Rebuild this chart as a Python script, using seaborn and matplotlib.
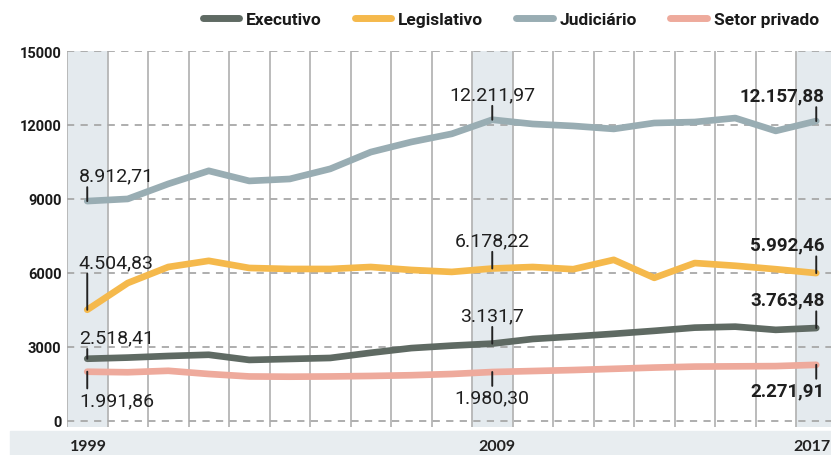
import matplotlib
matplotlib.use("Agg")
import matplotlib.pyplot as plt
import seaborn as sns
import pandas as pd

years = list(range(1999, 2018))

executivo = [2518.41, 2565, 2630, 2680, 2470, 2510, 2550, 2760, 2950, 3050,
             3131.7, 3320, 3420, 3530, 3650, 3780, 3820, 3690, 3763.48]
legislativo = [4504.83, 5590, 6240, 6490, 6200, 6160, 6160, 6240, 6120, 6040,
               6178.22, 6240, 6150, 6530, 5800, 6400, 6290, 6150, 5992.46]
judiciario = [8912.71, 9000, 9610, 10140, 9730, 9810, 10220, 10900, 11310, 11640,
              12211.97, 12040, 11960, 11840, 12080, 12120, 12280, 11760, 12157.88]
setor_privado = [1991.86, 1970, 2030, 1900, 1800, 1790, 1800, 1820, 1850, 1900,
                 1980.30, 2020, 2060, 2110, 2160, 2200, 2210, 2220, 2271.91]

series_names = ["Executivo", "Legislativo", "Judiciário", "Setor privado"]
series_values = [executivo, legislativo, judiciario, setor_privado]
colors = {"Executivo": "#5f6a63", "Legislativo": "#f5b94c",
          "Judiciário": "#99adb3", "Setor privado": "#eeaa9c"}

highlight_years = [1999, 2009, 2017]
y_ticks = [0, 3000, 6000, 9000, 12000, 15000]
x_labels = ["1999", "2009", "2017"]


def fmt_br(v, decimals=2):
    s = f"{v:,.{decimals}f}"
    return s.replace(",", "X").replace(".", ",").replace("X", ".")


rows = []
for name, vals in zip(series_names, series_values):
    for y, v in zip(years, vals):
        rows.append({"Ano": y, "Valor": v, "Série": name})
df = pd.DataFrame(rows)

sns.set_theme(style="white")
plt.rcParams["font.family"] = ["Roboto", "DejaVu Sans"]

W, H = 831, 456
COL = 40.5
fig = plt.figure(figsize=(W / 100, H / 100), dpi=100)
ax = fig.add_axes([67 / W, 1 - 428 / H, 1 - 67 / W, (428 - 52) / H])

# highlighted year columns
for yr in highlight_years:
    ax.axvspan(yr - 0.5, yr + 0.5, color="#e4eaee", zorder=0, lw=0)

# vertical column separators
for yr in years:
    ax.axvline(yr - 0.5, color="#b5b5b5", lw=1.3, zorder=1)
ax.axvline(years[-1] + 0.5, color="#b5b5b5", lw=1.3, zorder=1)

# dashed horizontal grid
for t in y_ticks:
    ax.axhline(t, color="#a8a8a8", lw=1.3, ls=(0, (4, 3.5)), zorder=1)

sns.lineplot(data=df, x="Ano", y="Valor", hue="Série", hue_order=series_names,
             palette=colors, linewidth=4.8, ax=ax, zorder=3,
             solid_capstyle="round", legend=True)

ax.set_xlim(1998.5, 1998.5 + (W - 67) / COL)
ax.set_ylim(-250, 15000)
ax.set_xticks([])
ax.set_yticks(y_ticks)
ax.set_yticklabels([str(t) for t in y_ticks], fontsize=10.5, fontweight="bold",
                   family=["Roboto", "DejaVu Sans"], color="#1a1a1a")
ax.tick_params(axis="y", length=0, pad=4)
ax.set_xlabel("")
ax.set_ylabel("")
for sp in ax.spines.values():
    sp.set_visible(False)

# value annotations: (series, year, direction, tick length in points)
annotations = [
    ("Judiciário", 1999, "up", 10), ("Judiciário", 2009, "up", 10), ("Judiciário", 2017, "up", 10),
    ("Legislativo", 1999, "up", 26), ("Legislativo", 2009, "up", 12), ("Legislativo", 2017, "up", 12),
    ("Executivo", 1999, "up", 7), ("Executivo", 2009, "up", 12), ("Executivo", 2017, "up", 12),
    ("Setor privado", 1999, "down", 12), ("Setor privado", 2009, "down", 10), ("Setor privado", 2017, "down", 10),
]
for name, yr, direction, tl in annotations:
    v = series_values[series_names.index(name)][years.index(yr)]
    label = fmt_br(v, 1) if (name == "Executivo" and yr == 2009) else fmt_br(v)
    sign = 1 if direction == "up" else -1
    ax.annotate("", xy=(yr, v), xytext=(0, sign * tl), textcoords="offset points",
                arrowprops=dict(arrowstyle="-", color="#222222", lw=1.4,
                                shrinkA=0, shrinkB=0), zorder=5)
    if yr == 1999:
        ha, dx = "left", -6
    elif yr == 2009:
        ha, dx = "center", 0
    else:
        ha, dx = "right", 6
    bold = yr == 2017
    ax.annotate(label, xy=(yr, v), xytext=(dx, sign * (tl + 2)),
                textcoords="offset points", ha=ha,
                va="bottom" if direction == "up" else "top",
                fontsize=13.5 if bold else 14,
                fontweight="bold" if bold else "normal",
                color="#1f1f1f", zorder=6)

# legend across the top
handles, labels = ax.get_legend_handles_labels()
ax.legend_.remove()
leg = fig.legend(handles, labels, loc="center right", bbox_to_anchor=(1.004, 1 - 20 / H),
                 ncol=4, frameon=False, handlelength=2.1, handletextpad=0.4,
                 columnspacing=1.9, prop={"family": ["Roboto", "DejaVu Sans"],
                                          "weight": "bold", "size": 12.5})
for t in leg.get_texts():
    t.set_color("#1a1a1a")
for line in leg.get_lines():
    line.set_linewidth(5)
    line.set_solid_capstyle("round")

# year strip at the bottom
fig.patches.append(plt.Rectangle((10 / W, 0), 1 - 10 / W, 24 / H, transform=fig.transFigure,
                                 color="#e8edf0", zorder=0))
for lbl, yr in zip(x_labels, highlight_years):
    xc = 67 + (yr - 1998.5) * COL
    kw = dict(va="center", fontsize=11.5, fontweight="bold",
              family=["Lato", "DejaVu Sans"], color="#222222")
    if yr == 1999:
        fig.text((xc - COL / 2 + 3) / W, 9 / H, lbl, ha="left", **kw)
    elif yr == 2009:
        fig.text((xc + 5) / W, 9 / H, lbl, ha="center", **kw)
    else:
        fig.text(1 - 1 / W, 9 / H, lbl, ha="right", **kw)

fig.savefig("out.png", dpi=100)
